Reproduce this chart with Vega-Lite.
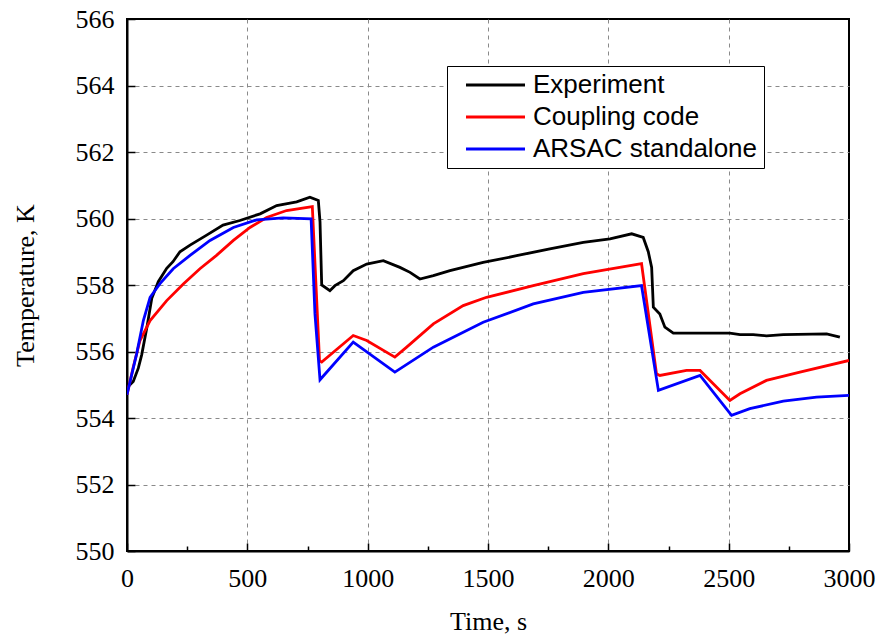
{
  "$schema": "https://vega.github.io/schema/vega-lite/v6.json",
  "width": 722,
  "height": 532,
  "autosize": {"type": "none"},
  "padding": {"left": 127, "top": 19, "right": 30, "bottom": 92},
  "background": "white",
  "config": {
    "view": {"stroke": "black", "strokeWidth": 2},
    "axis": {
      "domainColor": "black",
      "domainWidth": 2,
      "tickColor": "black",
      "tickWidth": 1.5,
      "labelColor": "black",
      "labelFont": "Times New Roman, Liberation Serif, serif",
      "titleFont": "Liberation Serif",
      "titleFontSize": 26,
      "titleFontWeight": "normal",
      "titleColor": "black",
      "gridColor": "#8a8a8a",
      "gridDash": [4, 4],
      "gridWidth": 1
    }
  },
  "data": {
    "values": [
      {"series": "Experiment", "time": 0, "temp": 555.0},
      {"series": "Experiment", "time": 12, "temp": 555.0},
      {"series": "Experiment", "time": 26, "temp": 555.1},
      {"series": "Experiment", "time": 47, "temp": 555.5},
      {"series": "Experiment", "time": 61, "temp": 555.9},
      {"series": "Experiment", "time": 82, "temp": 556.7},
      {"series": "Experiment", "time": 103, "temp": 557.6},
      {"series": "Experiment", "time": 130, "temp": 558.1},
      {"series": "Experiment", "time": 165, "temp": 558.5},
      {"series": "Experiment", "time": 191, "temp": 558.7},
      {"series": "Experiment", "time": 220, "temp": 559.0},
      {"series": "Experiment", "time": 262, "temp": 559.2},
      {"series": "Experiment", "time": 331, "temp": 559.5},
      {"series": "Experiment", "time": 399, "temp": 559.8},
      {"series": "Experiment", "time": 469, "temp": 559.94},
      {"series": "Experiment", "time": 553, "temp": 560.14},
      {"series": "Experiment", "time": 622, "temp": 560.39},
      {"series": "Experiment", "time": 705, "temp": 560.5},
      {"series": "Experiment", "time": 760, "temp": 560.64},
      {"series": "Experiment", "time": 795, "temp": 560.54},
      {"series": "Experiment", "time": 802, "temp": 559.9},
      {"series": "Experiment", "time": 809, "temp": 558.0},
      {"series": "Experiment", "time": 843, "temp": 557.83},
      {"series": "Experiment", "time": 864, "temp": 557.98},
      {"series": "Experiment", "time": 899, "temp": 558.13},
      {"series": "Experiment", "time": 940, "temp": 558.43},
      {"series": "Experiment", "time": 996, "temp": 558.63},
      {"series": "Experiment", "time": 1065, "temp": 558.73},
      {"series": "Experiment", "time": 1134, "temp": 558.53},
      {"series": "Experiment", "time": 1176, "temp": 558.38},
      {"series": "Experiment", "time": 1217, "temp": 558.18},
      {"series": "Experiment", "time": 1273, "temp": 558.28},
      {"series": "Experiment", "time": 1342, "temp": 558.43},
      {"series": "Experiment", "time": 1480, "temp": 558.68},
      {"series": "Experiment", "time": 1619, "temp": 558.88},
      {"series": "Experiment", "time": 1757, "temp": 559.09},
      {"series": "Experiment", "time": 1896, "temp": 559.28},
      {"series": "Experiment", "time": 2007, "temp": 559.39},
      {"series": "Experiment", "time": 2097, "temp": 559.54},
      {"series": "Experiment", "time": 2145, "temp": 559.43},
      {"series": "Experiment", "time": 2166, "temp": 559.0},
      {"series": "Experiment", "time": 2180, "temp": 558.53},
      {"series": "Experiment", "time": 2187, "temp": 557.33},
      {"series": "Experiment", "time": 2214, "temp": 557.13},
      {"series": "Experiment", "time": 2235, "temp": 556.73},
      {"series": "Experiment", "time": 2270, "temp": 556.55},
      {"series": "Experiment", "time": 2381, "temp": 556.55},
      {"series": "Experiment", "time": 2505, "temp": 556.55},
      {"series": "Experiment", "time": 2547, "temp": 556.51},
      {"series": "Experiment", "time": 2602, "temp": 556.51},
      {"series": "Experiment", "time": 2657, "temp": 556.47},
      {"series": "Experiment", "time": 2727, "temp": 556.51},
      {"series": "Experiment", "time": 2907, "temp": 556.53},
      {"series": "Experiment", "time": 2962, "temp": 556.43},
      {"series": "Coupling code", "time": 0, "temp": 554.7},
      {"series": "Coupling code", "time": 26, "temp": 555.53},
      {"series": "Coupling code", "time": 54, "temp": 556.33},
      {"series": "Coupling code", "time": 96, "temp": 556.93},
      {"series": "Coupling code", "time": 165, "temp": 557.53},
      {"series": "Coupling code", "time": 234, "temp": 558.03},
      {"series": "Coupling code", "time": 303, "temp": 558.49},
      {"series": "Coupling code", "time": 372, "temp": 558.89},
      {"series": "Coupling code", "time": 442, "temp": 559.34},
      {"series": "Coupling code", "time": 511, "temp": 559.73},
      {"series": "Coupling code", "time": 580, "temp": 560.03},
      {"series": "Coupling code", "time": 663, "temp": 560.24},
      {"series": "Coupling code", "time": 770, "temp": 560.36},
      {"series": "Coupling code", "time": 800, "temp": 555.72},
      {"series": "Coupling code", "time": 809, "temp": 555.68},
      {"series": "Coupling code", "time": 940, "temp": 556.48},
      {"series": "Coupling code", "time": 996, "temp": 556.33},
      {"series": "Coupling code", "time": 1113, "temp": 555.83},
      {"series": "Coupling code", "time": 1162, "temp": 556.13},
      {"series": "Coupling code", "time": 1273, "temp": 556.83},
      {"series": "Coupling code", "time": 1397, "temp": 557.38},
      {"series": "Coupling code", "time": 1494, "temp": 557.63},
      {"series": "Coupling code", "time": 1688, "temp": 557.98},
      {"series": "Coupling code", "time": 1896, "temp": 558.34},
      {"series": "Coupling code", "time": 2138, "temp": 558.64},
      {"series": "Coupling code", "time": 2200, "temp": 555.33},
      {"series": "Coupling code", "time": 2214, "temp": 555.28},
      {"series": "Coupling code", "time": 2325, "temp": 555.43},
      {"series": "Coupling code", "time": 2381, "temp": 555.43},
      {"series": "Coupling code", "time": 2505, "temp": 554.53},
      {"series": "Coupling code", "time": 2547, "temp": 554.73},
      {"series": "Coupling code", "time": 2657, "temp": 555.13},
      {"series": "Coupling code", "time": 2796, "temp": 555.38},
      {"series": "Coupling code", "time": 3000, "temp": 555.73},
      {"series": "ARSAC standalone", "time": 0, "temp": 554.7},
      {"series": "ARSAC standalone", "time": 40, "temp": 555.93},
      {"series": "ARSAC standalone", "time": 68, "temp": 556.93},
      {"series": "ARSAC standalone", "time": 96, "temp": 557.63},
      {"series": "ARSAC standalone", "time": 137, "temp": 558.04},
      {"series": "ARSAC standalone", "time": 192, "temp": 558.49},
      {"series": "ARSAC standalone", "time": 262, "temp": 558.89},
      {"series": "ARSAC standalone", "time": 345, "temp": 559.34},
      {"series": "ARSAC standalone", "time": 442, "temp": 559.73},
      {"series": "ARSAC standalone", "time": 539, "temp": 559.96},
      {"series": "ARSAC standalone", "time": 649, "temp": 560.02},
      {"series": "ARSAC standalone", "time": 765, "temp": 559.99},
      {"series": "ARSAC standalone", "time": 781, "temp": 557.13},
      {"series": "ARSAC standalone", "time": 802, "temp": 555.15},
      {"series": "ARSAC standalone", "time": 940, "temp": 556.28},
      {"series": "ARSAC standalone", "time": 1113, "temp": 555.38},
      {"series": "ARSAC standalone", "time": 1273, "temp": 556.13},
      {"series": "ARSAC standalone", "time": 1480, "temp": 556.88},
      {"series": "ARSAC standalone", "time": 1688, "temp": 557.43},
      {"series": "ARSAC standalone", "time": 1896, "temp": 557.78},
      {"series": "ARSAC standalone", "time": 2138, "temp": 557.98},
      {"series": "ARSAC standalone", "time": 2208, "temp": 554.83},
      {"series": "ARSAC standalone", "time": 2381, "temp": 555.28},
      {"series": "ARSAC standalone", "time": 2512, "temp": 554.08},
      {"series": "ARSAC standalone", "time": 2588, "temp": 554.28},
      {"series": "ARSAC standalone", "time": 2727, "temp": 554.51},
      {"series": "ARSAC standalone", "time": 2865, "temp": 554.63},
      {"series": "ARSAC standalone", "time": 3000, "temp": 554.68}
    ]
  },
  "mark": {"type": "line", "strokeWidth": 2.8, "clip": true},
  "encoding": {
    "x": {
      "field": "time",
      "type": "quantitative",
      "scale": {"domain": [0, 3000], "nice": false, "zero": false},
      "axis": {
        "title": "Time, s",
        "values": [0, 250, 500, 750, 1000, 1250, 1500, 1750, 2000, 2250, 2500, 2750, 3000],
        "format": "d",
        "labelExpr": "datum.value % 500 == 0 ? datum.label : ''",
        "labelFontSize": 26,
        "tickSize": {"condition": {"test": "datum.value % 500 == 0", "value": -8}, "value": -5},
        "labelPadding": 22,
        "labelFlush": false,
        "labelOverlap": false,
        "titlePadding": 14,
        "grid": true,
        "gridOpacity": {"condition": {"test": "datum.value % 500 == 0 && datum.value > 0 && datum.value < 3000", "value": 1}, "value": 0}
      }
    },
    "y": {
      "field": "temp",
      "type": "quantitative",
      "scale": {"domain": [550, 566], "nice": false, "zero": false},
      "axis": {
        "title": "Temperature, K",
        "values": [550, 552, 554, 556, 558, 560, 562, 564, 566],
        "format": "d",
        "labelFontSize": 26,
        "tickSize": -8,
        "labelPadding": 21,
        "labelFlush": false,
        "labelOverlap": false,
        "titlePadding": 37,
        "grid": true,
        "gridOpacity": {"condition": {"test": "datum.value > 550 && datum.value < 566", "value": 1}, "value": 0}
      }
    },
    "color": {
      "field": "series",
      "type": "nominal",
      "sort": ["Experiment", "Coupling code", "ARSAC standalone"],
      "scale": {"domain": ["Experiment", "Coupling code", "ARSAC standalone"], "range": ["#000000", "#ff0000", "#0000ff"]},
      "legend": {
        "title": null,
        "orient": "none",
        "legendX": 320,
        "legendY": 47,
        "symbolType": "M-2.95,0H2.95",
        "symbolSize": 400,
        "symbolStrokeWidth": 3,
        "symbolOffset": 29.5,
        "labelOffset": 24.5,
        "labelFont": "Liberation Sans",
        "labelFontSize": 26,
        "labelColor": "black",
        "labelLimit": 400,
        "rowPadding": 6,
        "padding": 6,
        "strokeColor": "black",
        "fillColor": "white"
      }
    }
  }
}
